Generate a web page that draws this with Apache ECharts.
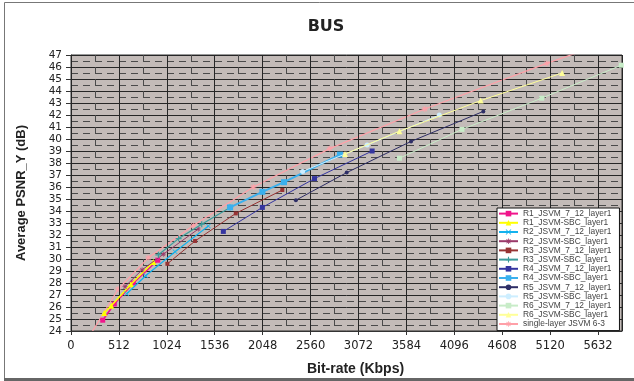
<!DOCTYPE html>
<html>
<head>
<meta charset="utf-8">
<script src="https://cdn.jsdelivr.net/npm/echarts@6/dist/echarts.min.js"></script>
<style>
  html, body { margin: 0; padding: 0; background: #fff; }
  #chart { width: 634px; height: 381px; }
</style>
</head>
<body>
<div id="chart"></div>
<script>
// [bit-rate kbps, PSNR_Y dB]
const r1Jsvm = [[339, 24.9], [463, 26.25], [666, 28.0], [927, 29.9]];
const r1Sbc = [[355, 25.5], [430, 26.1], [640, 27.9], [880, 29.75]];
const r2Jsvm = [[595, 27.1], [798, 28.6], [1112, 30.6], [1468, 32.75]];
const r2Sbc = [[577, 27.7], [760, 29.1], [987, 30.4], [1361, 32.5]];
const r3Jsvm = [[1030, 29.6], [1326, 31.5], [1761, 33.8], [2258, 35.75]];
const r3Sbc = [[934, 30.35], [1150, 31.7], [1397, 32.9], [1700, 34.3]];
const r4Jsvm = [[1628, 32.3], [2045, 34.3], [2602, 36.7], [3218, 39.0]];
const r4Sbc = [[1700, 34.3], [2045, 35.6], [2276, 36.4], [2874, 38.7]];
const r5Jsvm = [[2403, 34.9], [2946, 37.2], [3634, 39.8], [4406, 42.3]];
const r5Sbc = [[2475, 37.3], [3165, 39.5], [3936, 42.0]];
const r6Jsvm = [[3510, 38.4], [4178, 40.8], [5030, 43.4], [5880, 46.15]];
const r6Sbc = [[2928, 38.75], [3510, 40.65], [4378, 43.2], [5248, 45.5]];
const singleLayer = [[200, 23.6], [505, 27.5], [826, 30.1], [1307, 32.8], [1949, 36.0], [2765, 39.2], [3780, 42.5], [5084, 46.3], [6800, 51.0]];

const seriesNames = [
  'R1_JSVM_7_12_layer1', 'R1_JSVM-SBC_layer1',
  'R2_JSVM_7_12_layer1', 'R2_JSVM-SBC_layer1',
  'R3_JSVM_7_12_layer1', 'R3_JSVM-SBC_layer1',
  'R4_JSVM_7_12_layer1', 'R4_JSVM-SBC_layer1',
  'R5_JSVM_7_12_layer1', 'R5_JSVM-SBC_layer1',
  'R6_JSVM_7_12_layer1', 'R6_JSVM-SBC_layer1',
  'single-layer JSVM 6-3'
];
const seriesData = [r1Jsvm, r1Sbc, r2Jsvm, r2Sbc, r3Jsvm, r3Sbc, r4Jsvm, r4Sbc, r5Jsvm, r5Sbc, r6Jsvm, r6Sbc, singleLayer];

const CROSS = 'path://M0,1L1,0L5,4L9,0L10,1L6,5L10,9L9,10L5,6L1,10L0,9L4,5Z';
const PLUS = 'path://M4,0H6V4H10V6H6V10H4V6H0V4H4Z';
const DASH = 'path://M0,3.5H10V6.5H0Z';
const STAR = 'path://M4.3,0H5.7V3.3L8.1,0.9L9.1,1.9L6.7,4.3H10V5.7H6.7L9.1,8.1L8.1,9.1L5.7,6.7V10H4.3V6.7L1.9,9.1L0.9,8.1L3.3,5.7H0V4.3H3.3L0.9,1.9L1.9,0.9L4.3,3.3Z';

const styles = [
  { color: '#f0168c', symbol: 'rect', size: 5, width: 1.6 },
  { color: '#ffff00', symbol: 'triangle', size: 6, width: 1.6 },
  { color: '#13b2ee', symbol: CROSS, size: 5, width: 1.2 },
  { color: '#9a3a6a', symbol: STAR, size: 5, width: 1 },
  { color: '#973434', symbol: 'rect', size: 4, width: 1 },
  { color: '#3a9c9c', symbol: PLUS, size: 6, width: 1.2 },
  { color: '#3535a0', symbol: DASH, size: 5, width: 1 },
  { color: '#3ab0ee', symbol: DASH, size: 6, width: 2 },
  { color: '#2e2e66', symbol: 'circle', size: 4, width: 1 },
  { color: '#cdeeff', symbol: 'circle', size: 5, width: 1 },
  { color: '#c8ecc8', symbol: 'rect', size: 5, width: 1 },
  { color: '#ffff99', symbol: 'triangle', size: 6, width: 1 },
  { color: '#ffa0a8', symbol: STAR, size: 6, width: 1.2 }
];

const series = seriesNames.map((name, i) => ({
  name: name,
  type: 'line',
  data: seriesData[i],
  symbol: styles[i].symbol,
  symbolSize: styles[i].size,
  clip: true,
  color: styles[i].color,
  lineStyle: { width: styles[i].width, color: styles[i].color },
  itemStyle: { color: styles[i].color, borderWidth: 0 },
  z: i === 12 ? 1 : 2 + i
}));

const chart = echarts.init(document.getElementById('chart'));
const option = {
  animation: false,
  backgroundColor: '#fff',
  title: {
    text: 'BUS',
    left: 326,
    top: 19,
    textAlign: 'center',
    padding: 0,
    textStyle: { fontFamily: 'DejaVu Sans', fontWeight: 'bold', fontSize: 16, color: '#222' }
  },
  graphic: [
    { type: 'rect', silent: true, z: -10, shape: { x: 4.5, y: 2.5, width: 640, height: 376 }, style: { fill: null, stroke: '#777', lineWidth: 1 } },
    { type: 'rect', silent: true, z: -10, shape: { x: 4, y: 378, width: 630, height: 3 }, style: { fill: '#666' } }
  ],
  legend: {
    orient: 'vertical',
    left: 497,
    top: 208,
    itemWidth: 19,
    itemHeight: 7,
    itemGap: 0,
    padding: [1, 8, 2, 1],
    backgroundColor: '#fff',
    borderColor: '#111',
    borderWidth: 1,
    textStyle: { fontFamily: 'Liberation Sans', fontSize: 8.4, lineHeight: 9.2, color: '#444' },
    data: seriesNames
  },
  grid: {
    left: 71,
    top: 55,
    width: 551,
    height: 280,
    show: true,
    backgroundColor: '#c3bbb8',
    borderColor: '#333',
    borderWidth: 1
  },
  xAxis: [
    {
      type: 'value',
      min: 0,
      max: 5888,
      interval: 512,
      name: 'Bit-rate (Kbps)',
      nameLocation: 'middle',
      nameGap: 31,
      nameTextStyle: { fontFamily: 'Liberation Sans', fontWeight: 'bold', fontSize: 14, color: '#222', padding: [0, 0, 0, 18] },
      axisLine: { lineStyle: { color: '#333' } },
      axisTick: { length: 4, lineStyle: { color: '#333' } },
      axisLabel: { margin: 9, showMaxLabel: false, fontFamily: 'DejaVu Sans', fontSize: 11.5, color: '#222', formatter: v => String(v) },
      splitLine: { show: true, lineStyle: { color: '#262626', width: 1 } },
      z: 3
    },
    {
      type: 'value',
      min: 0,
      max: 5888,
      interval: 256,
      position: 'bottom',
      axisLine: { show: false },
      axisTick: { show: false },
      axisLabel: { show: false },
      splitLine: { show: true, lineStyle: { color: '#4a4a4a', width: 1, type: [7, 5] } },
      z: 1
    }
  ],
  yAxis: {
    type: 'value',
    min: 24,
    max: 47,
    interval: 1,
    name: 'Average PSNR_Y (dB)',
    nameLocation: 'middle',
    nameGap: 43,
    nameTextStyle: { fontFamily: 'Liberation Sans', fontWeight: 'bold', fontSize: 13, color: '#222' },
    axisLine: { show: true, lineStyle: { color: '#333' } },
    axisTick: { show: true, length: 5, lineStyle: { color: '#333' } },
    axisLabel: { margin: 9, fontFamily: 'DejaVu Sans', fontSize: 10.5, color: '#222' },
    splitLine: { show: true, lineStyle: { color: '#262626', width: 1 } },
    minorTick: { show: false, splitNumber: 2 },
    minorSplitLine: { show: true, lineStyle: { color: '#4a4a4a', width: 1, type: [7, 5] } }
  },
  series: series
};

chart.setOption(option);
</script>
</body>
</html>
